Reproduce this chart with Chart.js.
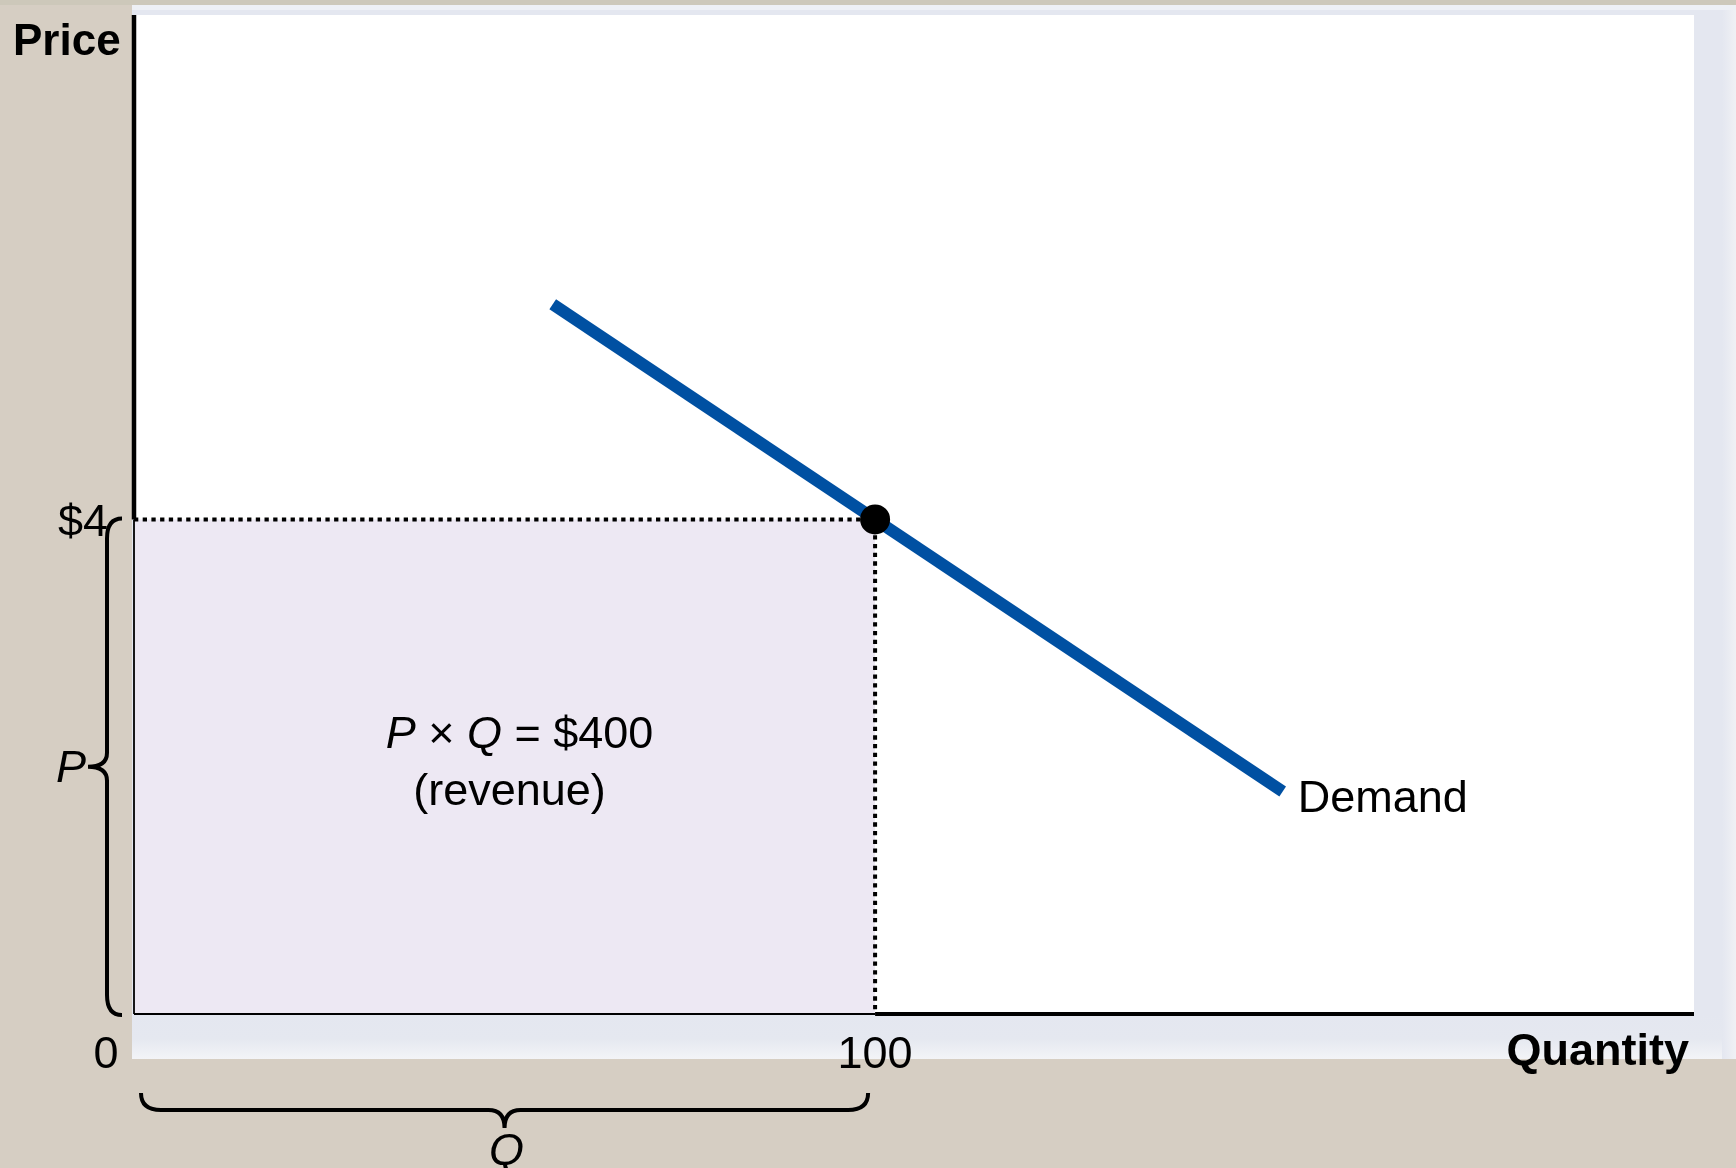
<!DOCTYPE html>
<html><head><meta charset="utf-8">
<script src="https://cdn.jsdelivr.net/npm/chart.js@4.4.1/dist/chart.umd.min.js"></script>
<style>html,body{margin:0;padding:0;background:#d6cec3;overflow:hidden}canvas{display:block}</style>
</head><body>
<canvas id="c" width="1736" height="1168"></canvas>
<script>
// ---- data ----
const demandQ = [56.5, 155];
const demandP = [5.74, 1.8];
const eqQ = [100];
const eqP = [4];
const xTickValues = [0, 100];
const xTickLabels = ['0', '100'];
const yTickValues = [4];
const yTickLabels = ['$4'];
const axisTitles = ['Quantity', 'Price'];
const seriesLabels = ['Demand'];
const revenueLine1 = ['P', ' × ', 'Q', ' = $400'];
const revenueLine2 = ['(revenue)'];
const braceLabels = ['P', 'Q'];
const xRange = [0, 210.5];
const yRange = [0, 8.08];

const FONT = '"Liberation Sans", Arial, sans-serif';
const FS = '45px ';

const deco = {
  id: 'deco',
  beforeDraw(chart) {
    const ctx = chart.ctx, W = chart.width, H = chart.height, a = chart.chartArea;
    ctx.save();
    ctx.fillStyle = '#d6cec3'; ctx.fillRect(0, 0, W, H);
    ctx.fillStyle = '#cdc8ba'; ctx.fillRect(0, 0, W, 5);
    ctx.fillStyle = '#e4e7f0';
    ctx.fillRect(a.left - 2, 5, W - (a.left - 2), a.bottom + 45 - 5);
    const g = ctx.createLinearGradient(a.right + 28, 0, W, 0);
    g.addColorStop(0, '#e4e7f0'); g.addColorStop(1, '#f0f1f5');
    ctx.fillStyle = g; ctx.fillRect(a.right + 28, 5, W - a.right - 28, a.bottom + 40);
    const g2 = ctx.createLinearGradient(0, a.bottom, 0, a.bottom + 45);
    g2.addColorStop(0, '#e4e7f0'); g2.addColorStop(0.55, '#e5e8f0'); g2.addColorStop(1, '#f3f4f7');
    ctx.fillStyle = g2; ctx.fillRect(a.left - 2, a.bottom, a.right + 28 - (a.left - 2), 45);
    ctx.fillStyle = '#eef0f5'; ctx.fillRect(a.left - 2, 5, W, 5);
    ctx.fillStyle = '#ffffff';
    ctx.fillRect(a.left, a.top, a.right - a.left, a.bottom - a.top);
    ctx.restore();
  },
  afterDatasetsDraw(chart) {
    const ctx = chart.ctx, a = chart.chartArea, xs = chart.scales.x, ys = chart.scales.y;
    const y4 = ys.getPixelForValue(eqP[0]), x100 = xs.getPixelForValue(eqQ[0]);
    ctx.save();
    ctx.strokeStyle = '#000';
    ctx.lineWidth = 4.5;
    ctx.beginPath(); ctx.moveTo(a.left, a.top); ctx.lineTo(a.left, y4); ctx.stroke();
    ctx.lineWidth = 1.8;
    ctx.beginPath(); ctx.moveTo(a.left, y4); ctx.lineTo(a.left, a.bottom); ctx.stroke();
    ctx.lineWidth = 1.8;
    ctx.beginPath(); ctx.moveTo(a.left, a.bottom); ctx.lineTo(x100, a.bottom); ctx.stroke();
    ctx.lineWidth = 4;
    ctx.beginPath(); ctx.moveTo(x100, a.bottom); ctx.lineTo(a.right, a.bottom); ctx.stroke();
    ctx.restore();
  },
  afterDraw(chart) {
    const ctx = chart.ctx, a = chart.chartArea, xs = chart.scales.x, ys = chart.scales.y;
    ctx.save();
    ctx.fillStyle = '#000';
    ctx.textBaseline = 'alphabetic';
    ctx.font = 'bold 44px ' + FONT;
    ctx.textAlign = 'left';
    ctx.fillText(axisTitles[1], a.left - 121, a.top + 40);
    ctx.font = 'bold 45px ' + FONT;
    ctx.textAlign = 'right';
    ctx.fillText(axisTitles[0], a.right - 5, a.bottom + 51);
    ctx.font = FS + FONT;
    ctx.textAlign = 'center';
    xTickValues.forEach((v, i) => {
      let px = xs.getPixelForValue(v);
      if (v === 0) px -= 28;
      ctx.fillText(xTickLabels[i], px, a.bottom + 54);
    });
    ctx.textAlign = 'right';
    yTickValues.forEach((v, i) => {
      ctx.fillText(yTickLabels[i], a.left - 26, ys.getPixelForValue(v) + 17);
    });
    const ex = xs.getPixelForValue(demandQ[1]), ey = ys.getPixelForValue(demandP[1]);
    ctx.textAlign = 'left';
    ctx.fillText(seriesLabels[0], ex + 15, ey + 21);
    const cx = xs.getPixelForValue(eqQ[0] / 2), cy = ys.getPixelForValue(eqP[0] / 2);
    const styles = ['italic ', '', 'italic ', ''];
    let widths = revenueLine1.map((s, i) => { ctx.font = styles[i] + FS + FONT; return ctx.measureText(s).width; });
    let total = widths.reduce((p, q) => p + q, 0);
    let x0 = cx + 15 - total / 2;
    ctx.textAlign = 'left';
    revenueLine1.forEach((s, i) => {
      ctx.font = styles[i] + FS + FONT;
      ctx.fillText(s, x0, cy - 19);
      x0 += widths[i];
    });
    ctx.font = FS + FONT;
    ctx.textAlign = 'center';
    ctx.fillText(revenueLine2[0], cx + 5, cy + 38);
    ctx.strokeStyle = '#000';
    ctx.lineWidth = 4;
    ctx.lineCap = 'butt';
    const y4 = ys.getPixelForValue(eqP[0]);
    const sx = a.left - 27, bx = a.left - 12, tx = a.left - 46;
    const top = y4 - 1, bot = a.bottom + 1, mid = (top + bot) / 2, r = 20;
    ctx.beginPath();
    ctx.moveTo(bx, top);
    ctx.quadraticCurveTo(sx, top, sx, top + r);
    ctx.lineTo(sx, mid - 14);
    ctx.quadraticCurveTo(sx, mid, tx, mid);
    ctx.quadraticCurveTo(sx, mid, sx, mid + 14);
    ctx.lineTo(sx, bot - r);
    ctx.quadraticCurveTo(sx, bot, bx, bot);
    ctx.stroke();
    const lx = xs.getPixelForValue(0) + 7, rx = xs.getPixelForValue(eqQ[0]) - 7, mx = (lx + rx) / 2;
    const eyy = a.bottom + 79, sy = a.bottom + 96, tipy = a.bottom + 114;
    ctx.beginPath();
    ctx.moveTo(lx, eyy);
    ctx.quadraticCurveTo(lx, sy, lx + r, sy);
    ctx.lineTo(mx - 16, sy);
    ctx.quadraticCurveTo(mx, sy, mx, tipy);
    ctx.quadraticCurveTo(mx, sy, mx + 16, sy);
    ctx.lineTo(rx - r, sy);
    ctx.quadraticCurveTo(rx, sy, rx, eyy);
    ctx.stroke();
    ctx.font = 'italic ' + FS + FONT;
    ctx.textAlign = 'right';
    ctx.fillText(braceLabels[0], tx - 2, mid + 15);
    ctx.textAlign = 'center';
    ctx.fillText(braceLabels[1], mx + 2, a.bottom + 151);
    ctx.restore();
  }
};

const demandData = demandQ.map((q, i) => ({ x: q, y: demandP[i] }));
const eqData = eqQ.map((q, i) => ({ x: q, y: eqP[i] }));
const boxData = [{ x: 0, y: eqP[0] }, { x: eqQ[0], y: eqP[0] }];
const guideData = [{ x: 0, y: eqP[0] }, { x: eqQ[0], y: eqP[0] }, { x: eqQ[0], y: 0 }];

new Chart(document.getElementById('c'), {
  type: 'line',
  data: {
    datasets: [
      { data: boxData, fill: 'origin', backgroundColor: '#ede8f3', borderWidth: 0, pointRadius: 0, order: 4 },
      { data: guideData, fill: false, borderColor: '#000', borderWidth: 4, borderDash: [4.3, 4.4], borderCapStyle: 'butt', pointRadius: 0, tension: 0, order: 3 },
      { data: demandData, fill: false, borderColor: '#0050a2', borderWidth: 12, borderCapStyle: 'butt', pointRadius: 0, tension: 0, order: 2 },
      { data: eqData, showLine: false, pointRadius: 15, pointBackgroundColor: '#000', pointBorderWidth: 0, order: 1 }
    ]
  },
  options: {
    responsive: false,
    animation: false,
    events: [],
    layout: { padding: { left: 134, right: 42, top: 10, bottom: 154 } },
    plugins: { legend: { display: false }, tooltip: { enabled: false } },
    scales: {
      x: { type: 'linear', min: xRange[0], max: xRange[1], display: false },
      y: { type: 'linear', min: yRange[0], max: yRange[1], display: false }
    }
  },
  plugins: [deco]
});
</script>
</body></html>
